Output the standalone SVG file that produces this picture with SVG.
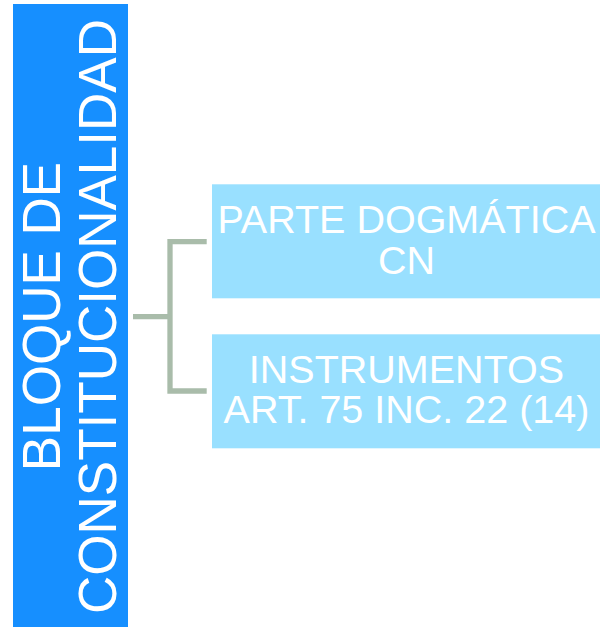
<svg xmlns="http://www.w3.org/2000/svg" width="600" height="628" viewBox="0 0 600 628">
<style>
.t{font-family:"Liberation Sans",Arial,sans-serif;fill:#ffffff;text-anchor:middle}
.big{font-size:53px}
.box{fill:#99e0ff}
.lbl{font-size:39.5px}
.conn{fill:none;stroke:#a9bcaa;stroke-width:5.3}
</style>
<rect width="600" height="628" fill="#ffffff"/>
<g id="connectors">
<path class="conn" d="M133 316.7 H170"/>
<path class="conn" d="M206.7 241.7 H170 V391 H206.7"/>
</g>
<g id="root">
<rect x="13" y="4" width="115" height="623" fill="#168fff"/>
<text class="t big" transform="translate(59.5,316.5) rotate(-90)">BLOQUE DE</text>
<text class="t big" transform="translate(115.5,316.5) rotate(-90)">CONSTITUCIONALIDAD</text>
</g>
<g id="node1">
<rect class="box" x="212" y="184.3" width="388" height="114"/>
<text class="t lbl" x="406.5" y="232.7">PARTE DOGMÁTICA</text>
<text class="t lbl" x="406.5" y="274">CN</text>
</g>
<g id="node2">
<rect class="box" x="212" y="334.3" width="388" height="114"/>
<text class="t lbl" x="406.5" y="382.7">INSTRUMENTOS</text>
<text class="t lbl" x="406.5" y="423.3">ART. 75 INC. 22 (14)</text>
</g>
</svg>
